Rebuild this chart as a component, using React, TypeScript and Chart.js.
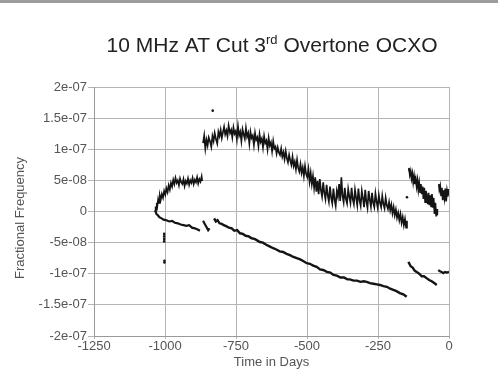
import React, { useEffect, useRef } from "react";
import { Chart, registerables } from "chart.js";

Chart.register(...registerables);

// Values are in units of 1e-9 (fractional frequency), days relative to the end.
const UNIT = 1e-9;

const X_TICKS = [-1250, -1000, -750, -500, -250, 0];
const Y_TICKS = [-2e-7, -1.5e-7, -1e-7, -5e-8, 0, 5e-8, 1e-7, 1.5e-7, 2e-7];

const TITLE_MAIN = "10 MHz AT Cut 3";
const TITLE_SUP = "rd";
const TITLE_REST = " Overtone OCXO";
const X_TITLE = "Time in Days";
const Y_TITLE = "Fractional Frequency";

// Upper trace, first run
const UPPER_A_DAYS = [-1035, -1033, -1031, -1029, -1027, -1024, -1021, -1018, -1015, -1011, -1007, -1003, -999, -995, -991, -987, -983, -979, -975, -971, -967, -963, -959, -955, -951, -947, -943, -939, -935, -931, -927, -923, -919, -915, -911, -907, -903, -899, -895, -891, -887, -883, -879, -875, -871, -869];
const UPPER_A_VALS = [0, 8, 3, 14, 9, 20, 14, 25, 19, 28, 22, 33, 27, 37, 31, 42, 35, 46, 40, 51, 44, 54, 46, 50, 42, 53, 47, 44, 52, 41, 49, 45, 53, 43, 50, 46, 54, 44, 51, 47, 55, 45, 52, 48, 56, 49];

// Upper trace, long run
const UPPER_B_DAYS = [-866, -862, -858, -854, -850, -846, -841, -837, -833, -829, -825, -820, -816, -812, -808, -804, -800, -796, -792, -788, -784, -780, -776, -771, -767, -763, -759, -755, -751, -747, -743, -739, -735, -731, -727, -723, -719, -715, -711, -707, -703, -699, -695, -691, -687, -683, -679, -675, -671, -667, -663, -659, -655, -651, -647, -643, -639, -635, -631, -627, -623, -619, -615, -611, -607, -603, -599, -595, -591, -587, -583, -579, -575, -571, -567, -563, -559, -555, -551, -547, -543, -539, -535, -531, -527, -523, -519, -515, -511, -507, -503, -499, -495, -491, -487, -483, -479, -475, -471, -467, -463, -459, -455, -451, -447, -443, -439, -435, -431, -427, -423, -419, -415, -411, -407, -403, -399, -395, -391, -387, -383, -379, -375, -371, -367, -363, -359, -355, -351, -347, -343, -339, -335, -331, -327, -323, -319, -315, -311, -307, -303, -299, -295, -291, -287, -283, -279, -275, -271, -267, -263, -259, -255, -251, -247, -243, -239, -235, -231, -227, -223, -219, -215, -211, -207, -203, -199, -195, -191, -187, -183, -179, -175, -171, -167, -163, -159, -155, -151, -148];
const UPPER_B_VALS = [110, 122, 101, 115, 106, 119, 112, 104, 121, 113, 126, 115, 109, 128, 121, 131, 118, 127, 136, 124, 130, 121, 138, 126, 131, 119, 135, 125, 129, 116, 137, 122, 128, 113, 132, 124, 117, 134, 120, 126, 109, 128, 118, 122, 107, 126, 115, 119, 105, 124, 112, 117, 103, 121, 110, 114, 100, 118, 106, 111, 97, 113, 101, 104, 93, 103, 95, 91, 101, 88, 95, 84, 97, 86, 79, 91, 82, 75, 88, 73, 80, 68, 83, 70, 64, 76, 62, 71, 57, 73, 60, 55, 68, 48, 62, 44, 57, 38, 55, 32, 49, 28, 52, 34, 24, 47, 30, 20, 43, 26, 16, 40, 22, 13, 37, 19, 9, 33, 24, 44, 17, 55, 25, 15, 38, 20, 13, 36, 24, 14, 38, 20, 12, 35, 22, 10, 37, 18, 9, 33, 21, 7, 35, 16, 6, 33, 19, 8, 30, 14, 7, 29, 16, 6, 26, 14, 7, 25, 12, 5, 22, 10, 4, 15, 2, 11, -3, 7, -6, 3, -10, -2, -14, -4, -18, -9, -22, -12, -26, -15];

// Upper trace, after the step at ~-145 days
const UPPER_C_DAYS = [-144, -141, -138, -135, -132, -129, -126, -123, -120, -117, -114, -111, -108, -105, -102, -99, -96, -93, -90, -87, -84, -81, -78, -75, -72, -69, -66, -63, -60, -57, -54, -51, -48, -45, -42, -41];
const UPPER_C_VALS = [66, 70, 59, 65, 53, 61, 47, 57, 44, 52, 40, 50, 35, 46, 31, 44, 28, 40, 20, 38, 15, 33, 24, 12, 30, 10, 26, 8, 28, 6, 22, -4, 14, -8, 4, -6];

const UPPER_D_DAYS = [-36, -34, -31, -28, -25, -22, -19, -16, -13, -10, -7, -4, -2, 0];
const UPPER_D_VALS = [44, 35, 41, 26, 38, 18, 34, 22, 37, 16, 33, 24, 36, 26];

// Lower trace
const LOWER_A_DAYS = [-1035, -1030, -1025, -1020, -1012, -1005, -995, -985, -975, -965, -955, -945, -935, -925, -915, -905, -895, -885, -877];
const LOWER_A_VALS = [2, -4, -6, -9, -11, -13, -14, -16, -15, -18, -19, -21, -22, -23, -22, -26, -27, -29, -31];

const LOWER_B_DAYS = [-866, -860, -854, -848, -843];
const LOWER_B_VALS = [-15, -20, -25, -30, -27];

const LOWER_C_DAYS = [-827, -821, -815, -808, -800, -793, -783, -775, -765, -756, -746, -736, -726, -716, -705, -695, -685, -677, -666, -655, -645, -632, -619, -608, -596, -584, -572, -560, -548, -536, -524, -512, -501, -490, -478, -466, -454, -443, -430, -418, -407, -395, -382, -370, -358, -349, -336, -324, -312, -300, -290, -278, -266, -254, -243, -231, -219, -207, -196, -185, -173, -161, -149];
const LOWER_C_VALS = [-11, -16, -14, -19, -20, -22, -24, -26, -27, -31, -30, -35, -36, -39, -40, -43, -44, -46, -49, -50, -53, -56, -59, -61, -64, -65, -68, -70, -73, -75, -77, -80, -83, -84, -87, -89, -93, -94, -97, -98, -102, -103, -106, -106, -109, -109, -111, -111, -113, -112, -113, -115, -116, -117, -118, -120, -121, -124, -126, -128, -131, -133, -137];

const LOWER_D_DAYS = [-143, -135, -128, -121, -114, -105, -96, -88, -79, -70, -61, -52, -43];
const LOWER_D_VALS = [-81, -88, -90, -95, -97, -100, -104, -104, -107, -110, -112, -115, -118];

const LOWER_E_DAYS = [-38, -32, -26, -20, -14, -8, 0];
const LOWER_E_VALS = [-94, -96, -97, -99, -97, -98, -97];

// Isolated readings
const STRAY_DAYS = [-1003, -1003, -1003, -1003, -1002, -1002, -832, -148];
const STRAY_VALS = [-36, -40, -44, -48, -79, -82, 162, 23];

const FONT = "'Liberation Sans', Arial, sans-serif";

function pts(days: number[], vals: number[]) {
  return days.map((d, i) => ({ x: d, y: vals[i] * UNIT }));
}

function fmtG(v: number): string {
  if (Math.abs(v) < 1e-15) return "0";
  const e = Math.floor(Math.log10(Math.abs(v)) + 1e-9);
  const m = Math.round((v / Math.pow(10, e)) * 1000) / 1000;
  const sign = e < 0 ? "-" : "+";
  const ae = Math.abs(e);
  return `${m}e${sign}${ae < 10 ? "0" + ae : ae}`;
}

const decorPlugin = {
  id: "decor",
  beforeDraw(chart: any) {
    const ctx = chart.ctx;
    ctx.save();
    ctx.fillStyle = "#ffffff";
    ctx.fillRect(0, 0, chart.width, chart.height);
    ctx.fillStyle = "#9c9c9c";
    ctx.fillRect(0, 0, chart.width, 3);
    ctx.restore();
  },
  afterDraw(chart: any) {
    const ctx = chart.ctx;
    ctx.save();
    ctx.fillStyle = "#222";
    ctx.textBaseline = "alphabetic";
    const big = `21px ${FONT}`;
    const small = `13px ${FONT}`;
    ctx.font = big;
    const w1 = ctx.measureText(TITLE_MAIN).width;
    const w3 = ctx.measureText(TITLE_REST).width;
    ctx.font = small;
    const w2 = ctx.measureText(TITLE_SUP).width;
    const total = w1 + w2 + w3;
    let x = 272 - total / 2;
    const base = 52;
    ctx.font = big;
    ctx.textAlign = "left";
    ctx.fillText(TITLE_MAIN, x, base);
    x += w1;
    ctx.font = small;
    ctx.fillText(TITLE_SUP, x, base - 8);
    x += w2;
    ctx.font = big;
    ctx.fillText(TITLE_REST, x, base);

    // y axis title
    ctx.fillStyle = "#555";
    ctx.font = `13px ${FONT}`;
    ctx.translate(20, 218);
    ctx.rotate(-Math.PI / 2);
    ctx.textAlign = "center";
    ctx.textBaseline = "middle";
    ctx.fillText(Y_TITLE, 0, 0);
    ctx.restore();
  },
};

export default function App() {
  const ref = useRef<HTMLCanvasElement | null>(null);

  useEffect(() => {
    document.body.style.margin = "0";
    if (!ref.current) return;
    const band = (data: any, width: number) => ({
      data,
      showLine: true,
      borderColor: "#141414",
      backgroundColor: "#141414",
      borderWidth: width,
      pointRadius: 0,
      tension: 0,
      fill: false,
    });
    const chart = new Chart(ref.current, {
      type: "scatter",
      data: {
        datasets: [
          band(pts(UPPER_A_DAYS, UPPER_A_VALS), 1.7),
          band(pts(UPPER_B_DAYS, UPPER_B_VALS), 1.7),
          band(pts(UPPER_C_DAYS, UPPER_C_VALS), 1.7),
          band(pts(UPPER_D_DAYS, UPPER_D_VALS), 1.7),
          band(pts(LOWER_A_DAYS, LOWER_A_VALS), 2.2),
          band(pts(LOWER_B_DAYS, LOWER_B_VALS), 2.2),
          band(pts(LOWER_C_DAYS, LOWER_C_VALS), 2.4),
          band(pts(LOWER_D_DAYS, LOWER_D_VALS), 2.4),
          band(pts(LOWER_E_DAYS, LOWER_E_VALS), 2.2),
          {
            data: pts(STRAY_DAYS, STRAY_VALS),
            showLine: false,
            pointRadius: 1.3,
            pointBorderWidth: 0,
            backgroundColor: "#141414",
            borderColor: "#141414",
          },
        ],
      },
      options: {
        animation: false,
        responsive: false,
        maintainAspectRatio: false,
        events: [],
        layout: { padding: { top: 87, right: 49, bottom: 0, left: 0 } },
        plugins: {
          legend: { display: false },
          tooltip: { enabled: false },
          title: { display: false },
        },
        scales: {
          x: {
            type: "linear",
            min: -1250,
            max: 0,
            afterFit: (s: any) => {
              s.height = 38;
            },
            afterBuildTicks: (s: any) => {
              s.ticks = X_TICKS.map((v) => ({ value: v }));
            },
            ticks: {
              color: "#555",
              font: { family: FONT, size: 13 },
              padding: 0,
              maxRotation: 0,
              autoSkip: false,
              callback: (v: any) => String(v),
            },
            grid: { color: "#b4b4b4", lineWidth: 1, tickLength: 3, drawTicks: true },
            border: { color: "#9a9a9a", width: 1 },
            title: {
              display: true,
              text: X_TITLE,
              color: "#555",
              font: { family: FONT, size: 13 },
              padding: { top: 0, bottom: 4 },
            },
          },
          y: {
            type: "linear",
            min: -2e-7,
            max: 2e-7,
            afterFit: (s: any) => {
              s.width = 94;
            },
            afterBuildTicks: (s: any) => {
              s.ticks = Y_TICKS.map((v) => ({ value: v }));
            },
            ticks: {
              color: "#555",
              font: { family: FONT, size: 13 },
              padding: 1,
              autoSkip: false,
              callback: (v: any) => fmtG(Number(v)),
            },
            grid: { color: "#b4b4b4", lineWidth: 1, tickLength: 6, drawTicks: true },
            border: { color: "#9a9a9a", width: 1 },
            title: { display: false },
          },
        },
      },
      plugins: [decorPlugin],
    });
    return () => chart.destroy();
  }, []);

  return (
    <div style={{ width: 498, height: 374, background: "#fff" }}>
      <canvas ref={ref} width={498} height={374} style={{ display: "block" }} />
    </div>
  );
}
